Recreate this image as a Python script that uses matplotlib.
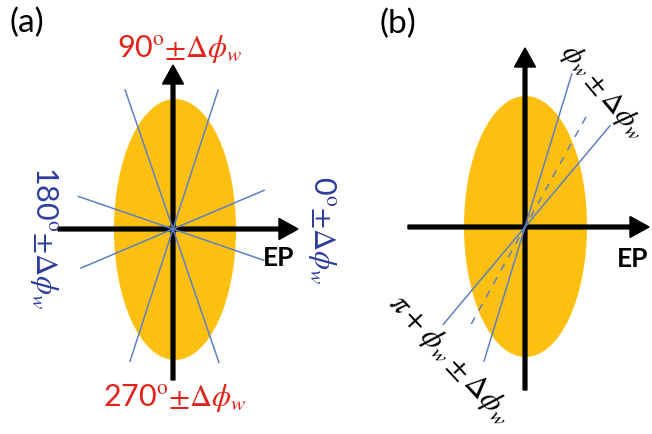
import numpy as np
import matplotlib.pyplot as plt
from matplotlib.patches import Ellipse

plt.rcParams['font.family'] = ['Lato', 'DejaVu Sans']
plt.rcParams['mathtext.fontset'] = 'stix'

# ellipses (cx, cy, w, h) in pixel coords
ell_cx = [175, 525.5]
ell_cy = [229.5, 226.5]
ell_w = [122, 123]
ell_h = [261, 261]
ell_color = '#FDC010'

# coordinate axes: (x0, y0, x1, y1), arrow tip at (x1, y1)
axes_lines = [
    (173, 380, 173, 65),
    (58, 229, 298, 229),
    (525, 390, 525, 48),
    (408, 227, 649, 227),
]

# blue lines through centre: angle (deg), reach forward, reach backward
a_center = (173, 229)
a_angles = [72, 109, 23, 161]
a_fwd = [146, 147, 99, 100]
a_back = [139, 141, 100, 96]

b_center = (525, 227)
b_angles = [73, 50]
b_fwd = [160, 132]
b_back = [140, 127]
b_dash_angle = 61
b_dash_fwd = 129
b_dash_back = 111

line_blue = '#5F80C0'
red = '#E2231A'
navy = '#2E3D9C'

fig = plt.figure(figsize=(6.52, 4.34), dpi=100)
ax = fig.add_axes([0, 0, 1, 1])
ax.set_xlim(0, 652)
ax.set_ylim(434, 0)
ax.axis('off')

for cx, cy, w, h in zip(ell_cx, ell_cy, ell_w, ell_h):
    ax.add_patch(Ellipse((cx, cy), w, h, fc=ell_color, ec='none', zorder=1))


def ray(center, ang, f, b):
    t = np.deg2rad(ang)
    cx, cy = center
    return ([cx - b * np.cos(t), cx + f * np.cos(t)],
            [cy + b * np.sin(t), cy - f * np.sin(t)])


for x0, y0, x1, y1 in axes_lines:
    ax.arrow(x0, y0, x1 - x0, y1 - y0, width=3.8, head_width=21,
             head_length=19, length_includes_head=True, fc='k', ec='k',
             zorder=2)

for ang, f, b in zip(a_angles, a_fwd, a_back):
    xs, ys = ray(a_center, ang, f, b)
    ax.plot(xs, ys, color=line_blue, lw=1.1, zorder=3)

for ang, f, b in zip(b_angles, b_fwd, b_back):
    xs, ys = ray(b_center, ang, f, b)
    ax.plot(xs, ys, color=line_blue, lw=1.1, zorder=3)
xs, ys = ray(b_center, b_dash_angle, b_dash_fwd, b_dash_back)
ax.plot(xs, ys, color=line_blue, lw=1.1, ls=(0, (5, 5)), zorder=3)

ax.text(27, 23, '(a)', fontsize=24, ha='center', va='center')
ax.text(398, 24, '(b)', fontsize=24, ha='center', va='center')
ax.text(279, 258, 'EP', fontsize=19, fontweight='bold', ha='center', va='center')
ax.text(633, 259, 'EP', fontsize=19, fontweight='bold', ha='center', va='center')

lab = r'$^{\mathrm{o}}$$\pm\Delta\phi_{w}$'
ax.text(180, 49, '90' + lab, fontsize=22, color=red, ha='center', va='center')
ax.text(175, 398, '270' + lab, fontsize=22, color=red, ha='center', va='center')
ax.text(44, 238, '180' + lab, fontsize=22, color=navy, ha='center',
        va='center', rotation=-90)
ax.text(322, 230, '0' + lab, fontsize=22, color=navy, ha='center',
        va='center', rotation=-90)

ax.text(603, 92, r'$\phi_{w}\pm\Delta\phi_{w}$', fontsize=21, ha='center',
        va='center', rotation=-50, rotation_mode='anchor')
ax.text(450, 359, r'$\pi+\phi_{w}\pm\Delta\phi_{w}$', fontsize=22,
        ha='center', va='center', rotation=-47, rotation_mode='anchor')

fig.savefig('out.png', dpi=100)
